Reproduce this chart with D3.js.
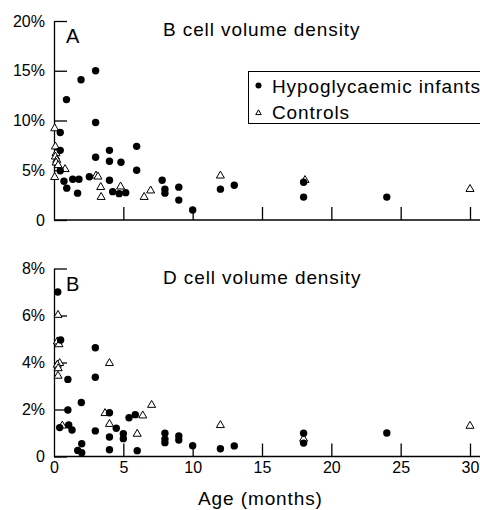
<!DOCTYPE html>
<html>
<head>
<meta charset="utf-8">
<script src="https://cdn.jsdelivr.net/npm/d3@7"></script>
<style>
  body { margin: 0; background: #fff; }
  svg { font-family: "Liberation Sans", Arial, sans-serif; }
</style>
</head>
<body>
<div id="chart"></div>
<script>
// data: [age in months, volume density %]
var bCellHypo = [[3.0,15.0],[1.95,14.1],[0.9,12.1],[3.0,9.8],[0.45,8.8],[0.45,7.0],[5.96,7.4],[4.0,7.0],
  [3.0,6.3],[4.0,5.9],[4.83,5.8],[5.96,5.0],[0.45,4.95],[0.72,3.9],[1.35,4.1],[1.8,4.1],[2.55,4.35],
  [4.0,4.0],[0.92,3.2],[1.7,2.7],[4.23,2.85],[4.7,2.65],[5.17,2.75],[7.8,4.0],[8.0,3.1],[8.0,2.7],
  [9.0,3.3],[9.0,2.0],[10.0,1.0],[12.0,3.1],[13.0,3.5],[18.0,3.8],[18.0,2.3],[24.0,2.3]];
var bCellCtrl = [[0.05,9.2],[0.1,7.37],[0.15,6.7],[0.1,6.36],[0.2,6.03],[0.15,5.76],[0.3,5.5],[0.8,5.1],
  [0.05,4.3],[3.03,4.45],[3.17,4.35],[3.37,3.3],[3.4,2.3],[4.8,3.35],[6.5,2.3],[6.97,2.95],
  [12.0,4.45],[18.1,4.0],[30.0,3.1]];
var dCellHypo = [[0.27,7.0],[0.48,4.96],[2.98,4.63],[2.98,3.37],[1.0,3.28],[1.0,1.98],[1.97,2.3],[4.0,1.86],
  [0.41,1.23],[1.06,1.34],[1.3,1.13],[2.98,1.09],[4.49,1.2],[4.0,0.83],[5.0,0.97],[5.0,0.76],[5.41,1.65],
  [5.86,1.78],[2.0,0.54],[1.71,0.26],[2.0,0.16],[4.0,0.29],[6.0,0.25],[8.0,0.99],[8.0,0.74],[8.0,0.59],
  [9.0,0.87],[9.0,0.7],[10.0,0.46],[12.0,0.33],[13.0,0.45],[18.0,0.99],[18.0,0.57],[24.0,1.0]];
var dCellCtrl = [[0.29,6.02],[0.24,4.89],[0.36,4.77],[0.41,3.97],[0.24,3.9],[0.3,3.75],[0.29,3.43],[0.6,1.31],
  [4.0,3.97],[3.68,1.84],[4.0,1.38],[6.0,0.96],[6.4,1.74],[7.04,2.19],[12.0,1.33],[18.0,0.75],[30.0,1.3]];

var xTicks = [0, 5, 10, 15, 20, 25, 30];
var bTicks = [0, 5, 10, 15, 20];
var dTicks = [0, 2, 4, 6, 8];
var legendLabels = ["Hypoglycaemic infants", "Controls"];

var svgWidth = 480;
var svgHeight = 510;

var svg = d3.select("#chart")
  .append("svg")
  .attr("width", svgWidth)
  .attr("height", svgHeight);

var x = d3.scaleLinear().domain([0, 30]).range([54, 470]);

function drawPanel(opts) {
  var y = d3.scaleLinear().domain([0, opts.yMax]).range([opts.bottom, opts.top]);
  var g = svg.append("g");

  // x axis line runs off to the right edge
  g.append("line")
    .attr("x1", x(0)).attr("x2", svgWidth)
    .attr("y1", opts.bottom).attr("y2", opts.bottom)
    .attr("stroke", "#000").attr("stroke-width", 1.3);

  var xAxis = d3.axisBottom(x)
    .tickValues(opts.showX ? xTicks : xTicks.slice(1))
    .tickSizeInner(-13).tickSizeOuter(0).tickPadding(5.5)
    .tickFormat(opts.showX ? d3.format("d") : "");
  var xg = g.append("g").attr("transform", "translate(0," + opts.bottom + ")").call(xAxis);
  xg.select(".domain").remove();
  xg.selectAll(".tick line").attr("stroke-width", 1.3).filter(d => d === 0).remove();
  xg.selectAll("text").attr("font-size", 16).attr("fill", "#000").attr("font-family", null);

  var yAxis = d3.axisLeft(y)
    .tickValues(opts.ticks)
    .tickSizeInner(-13).tickSizeOuter(0).tickPadding(9)
    .tickFormat(d => d === 0 ? "0" : d + "%");
  var yg = g.append("g").attr("transform", "translate(" + x(0) + ",0)").call(yAxis);
  yg.select(".domain").attr("stroke-width", 1.3);
  yg.selectAll(".tick line").attr("stroke-width", 1.3);
  yg.selectAll("text").attr("font-size", 16).attr("fill", "#000").attr("font-family", null);

  g.append("text").attr("x", 66).attr("y", opts.top + 22)
    .attr("font-size", 20).text(opts.letter);
  g.append("text").attr("x", 163).attr("y", opts.top + 15)
    .attr("font-size", 19).attr("letter-spacing", 0.9).text(opts.title);

  var tri = d3.symbol().type(d3.symbolTriangle).size(28);
  g.selectAll("path.ctrl")
    .data(opts.ctrl)
    .enter()
    .append("path")
    .attr("class", "ctrl")
    .attr("d", tri)
    .attr("transform", d => "translate(" + x(d[0]) + "," + y(d[1]) + ")")
    .attr("fill", "#fff")
    .attr("stroke", "#000")
    .attr("stroke-width", 1);

  g.selectAll("circle.hypo")
    .data(opts.hypo)
    .enter()
    .append("circle")
    .attr("class", "hypo")
    .attr("cx", d => x(d[0]))
    .attr("cy", d => y(d[1]))
    .attr("r", 3.7)
    .attr("fill", "#000");
}

drawPanel({ top: 21, bottom: 220, yMax: 20, ticks: bTicks, hypo: bCellHypo, ctrl: bCellCtrl,
  letter: "A", title: "B cell volume density", showX: false });
drawPanel({ top: 268.5, bottom: 456.5, yMax: 8, ticks: dTicks, hypo: dCellHypo, ctrl: dCellCtrl,
  letter: "B", title: "D cell volume density", showX: true });

svg.append("text")
  .attr("x", 198)
  .attr("y", 505)
  .attr("font-size", 19)
  .attr("letter-spacing", 0.9)
  .text("Age (months)");

// legend
var legend = svg.append("g");
legend.append("rect")
  .attr("x", 248.5).attr("y", 71.5)
  .attr("width", 260).attr("height", 52)
  .attr("fill", "#fff").attr("stroke", "#000").attr("stroke-width", 1);
legend.append("circle").attr("cx", 258.5).attr("cy", 85.5).attr("r", 3).attr("fill", "#000");
legend.append("path")
  .attr("d", d3.symbol().type(d3.symbolTriangle).size(13))
  .attr("transform", "translate(258.5,113)")
  .attr("fill", "#fff").attr("stroke", "#000").attr("stroke-width", 1);
legend.selectAll("text.leg")
  .data(legendLabels)
  .enter()
  .append("text")
  .attr("class", "leg")
  .attr("x", 272)
  .attr("y", (d, i) => 93 + i * 26)
  .attr("font-size", 19)
  .attr("letter-spacing", 0.9)
  .text(d => d);
</script>
</body>
</html>
